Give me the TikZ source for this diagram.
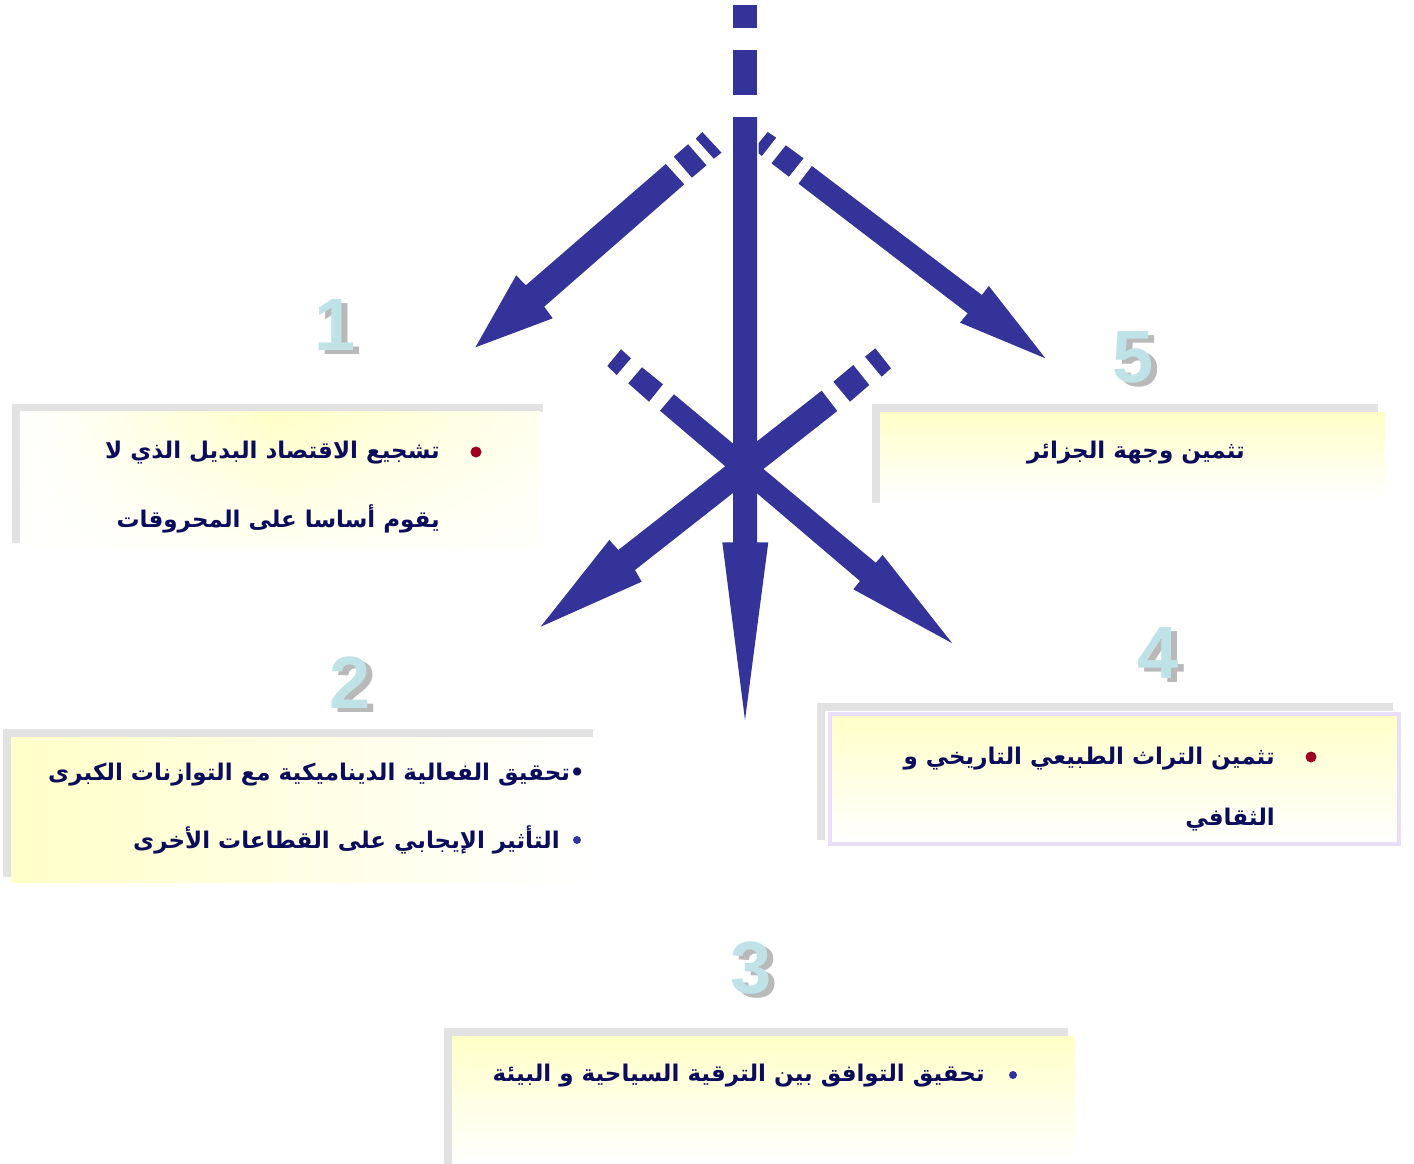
\documentclass[tikz,border=0pt]{standalone}
\usepackage{fontspec}
\usetikzlibrary{fadings}
\newfontfamily\arabicfont[Script=Arabic]{DejaVu Sans}
\newfontfamily\numfont{Liberation Sans}
\TeXXeTstate=1
\definecolor{arr}{RGB}{51,51,153}
\definecolor{yel}{RGB}{255,255,200}
\definecolor{framec}{RGB}{226,226,226}
\definecolor{lav}{RGB}{232,222,248}
\definecolor{txt}{RGB}{12,12,92}
\definecolor{bred}{RGB}{160,0,32}
\definecolor{bblue}{RGB}{51,51,160}
\definecolor{numc}{RGB}{190,226,230}
\definecolor{nums}{RGB}{185,185,185}
\tikzfading[name=fadedown, top color=transparent!0, bottom color=transparent!80]
\newcommand{\embnum}[1]{\makebox[0pt][l]{\hspace{6pt}\raisebox{-4pt}{\textcolor{nums}{#1}}}\textcolor{numc}{#1}}
\tikzset{
  arrfill/.style={fill=arr, draw=none},
  atext/.style={font=\arabicfont\bfseries\fontsize{23}{27}\selectfont, text=txt, inner sep=0pt},
  numtxt/.style={font=\numfont\bfseries\fontsize{74}{74}\selectfont, inner sep=0pt},
  bar/.style={fill=framec, draw=none},
  dotr/.style={circle, fill=bred, inner sep=0pt, minimum size=11pt},
  dotb/.style={circle, fill=bblue, inner sep=0pt, minimum size=8pt},
}
\begin{document}
\begin{tikzpicture}[x=1pt,y=-1pt]
\useasboundingbox (0,0) rectangle (1414,1164);
\fill[white] (0,0) rectangle (1414,1164);

% ---------- boxes ----------
% box 1
\fill[bar] (12,404) rectangle (543,412);
\fill[bar] (12,404) rectangle (20,543);
\shade[left color=white, right color=yel!30!white, middle color=yel, path fading=fadedown] (20,412) rectangle (540,548);
% box 2
\fill[bar] (3,729) rectangle (593,737);
\fill[bar] (3,729) rectangle (11,877);
\shade[left color=yel, right color=white] (11,737) rectangle (590,882);
% box 3
\fill[bar] (444,1028) rectangle (1068,1036);
\fill[bar] (444,1028) rectangle (452,1164);
\shade[top color=yel, bottom color=white] (452,1036) rectangle (1075,1164);
% box 4
\fill[bar] (817,703) rectangle (1393,711);
\fill[bar] (817,703) rectangle (825,840);
\shade[top color=yel, bottom color=white] (830,714) rectangle (1399,844);
\draw[lav, line width=4pt] (830,714) rectangle (1399,844);
% box 5
\fill[bar] (872,404) rectangle (1378,412);
\fill[bar] (872,404) rectangle (880,503);
\shade[top color=yel, bottom color=white] (880,412) rectangle (1385,500);

% ---------- numbers ----------
\node[numtxt] (n1) at (335,327) {\embnum{1}};
\node[numtxt] (n2) at (350,685) {\embnum{2}};
\node[numtxt] (n3) at (751,970) {\embnum{3}};
\node[numtxt] (n4) at (1158,655) {\embnum{4}};
\node[numtxt] (n5) at (1133,359) {\embnum{5}};

% ---------- arrows ----------
% arrow to 1 (upper left)
\fill[arrfill] (702.3,132) -- (721.5,152.7) -- (713.8,158.7) -- (695.8,138.7) -- cycle;
\fill[arrfill] (688.1,144.3) -- (706.5,165.3) -- (691.9,177.7) -- (673.8,156.7) -- cycle;
\fill[arrfill] (665.8,164) -- (525.8,285.3) -- (516.2,275.3) -- (475.4,347.3) -- (552.7,318.3) -- (544.2,306.7) -- (684.2,184.3) -- cycle;
% arrow to 5 (upper right)
\fill[arrfill] (758.5,143.3) -- (767.7,132) -- (776.2,137.7) -- (761.9,156) -- (758.5,153.3) -- cycle;
\fill[arrfill] (785.8,145.3) -- (803.5,158.3) -- (788.8,176.7) -- (771.5,163.3) -- cycle;
\fill[arrfill] (811.9,166) -- (981.9,295) -- (988.8,286) -- (1045.4,358.3) -- (960,322.7) -- (967.7,313.3) -- (798.5,183.7) -- cycle;
% arrow to 4 (lower right)
\fill[arrfill] (607.3,366) -- (621,349.3) -- (631,358.3) -- (616.7,375) -- cycle;
\fill[arrfill] (628.3,383.3) -- (642,367.3) -- (663,384.3) -- (649,401.7) -- cycle;
\fill[arrfill] (674,394.3) -- (875.7,562.7) -- (882.7,555) -- (952.3,643.3) -- (853.3,589.3) -- (860,581) -- (660,410.7) -- cycle;
% arrow to 2 (lower left)
\fill[arrfill] (865,356.7) -- (875.3,348.3) -- (891,368.3) -- (881.7,376.7) -- cycle;
\fill[arrfill] (833.3,381.7) -- (853.3,365) -- (869.3,385) -- (850,401.7) -- cycle;
\fill[arrfill] (821.7,390.7) -- (618.3,550) -- (609.3,540) -- (540.7,626.7) -- (641.7,581.7) -- (635,570) -- (837.3,411) -- cycle;
% vertical arrow to 3
\fill[arrfill] (733,5) rectangle (757,28);
\fill[arrfill] (733,50) rectangle (757,95);
\fill[arrfill] (733,117) -- (733,542.3) -- (722.3,542.3) -- (745,720) -- (768.3,542.3) -- (757,542.3) -- (757,117) -- cycle;

% ---------- texts ----------
% box 1
\node[dotr] (b1) at (476,452) {};
\node[atext, anchor=east] (t1a) at (440,453) {\beginR تشجيع الاقتصاد البديل الذي لا\endR};
\node[atext, anchor=east] (t1b) at (440,519) {\beginR يقوم أساسا على المحروقات\endR};
% box 2
\node[atext, anchor=east] (t2a) at (585,775) {\beginR •تحقيق الفعالية الديناميكية مع التوازنات الكبرى\endR};
\node[dotb] (b2) at (577,840) {};
\node[atext, anchor=east] (t2b) at (560,840) {\beginR التأثير الإيجابي على القطاعات الأخرى\endR};
% box 3
\node[dotb] (b3) at (1013,1075) {};
\node[atext, anchor=east] (t3) at (985,1076) {\beginR تحقيق التوافق بين الترقية السياحية و البيئة\endR};
% box 4
\node[dotr] (b4) at (1311,757) {};
\node[atext, anchor=east] (t4a) at (1275,759) {\beginR تثمين التراث الطبيعي التاريخي و\endR};
\node[atext, anchor=east] (t4b) at (1275,820) {\beginR الثقافي\endR};
% box 5
\node[atext] (t5) at (1136,453) {\beginR تثمين وجهة الجزائر\endR};
\end{tikzpicture}
\end{document}
